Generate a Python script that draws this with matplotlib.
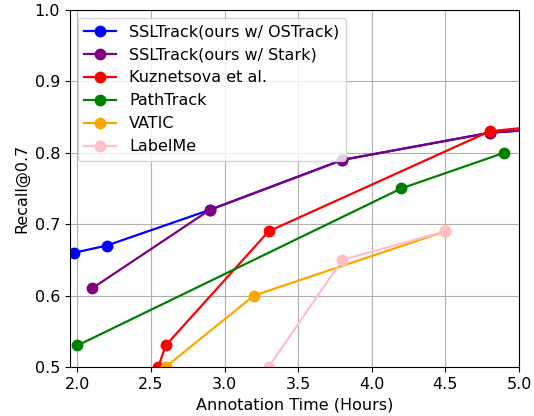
import matplotlib.pyplot as plt

# annotation time (hours) vs recall@0.7
ost_x = [1.98, 2.2, 2.9, 3.8, 4.8, 5.5]
ost_y = [0.66, 0.67, 0.72, 0.79, 0.828, 0.838]
stark_x = [2.1, 2.9, 3.8, 4.8, 5.5]
stark_y = [0.61, 0.72, 0.79, 0.828, 0.838]
kuz_x = [2.55, 2.6, 3.3, 4.8, 5.5]
kuz_y = [0.50, 0.53, 0.69, 0.83, 0.845]
path_x = [2.0, 4.2, 4.9]
path_y = [0.53, 0.75, 0.80]
vatic_x = [2.6, 3.2, 4.5]
vatic_y = [0.50, 0.60, 0.69]
labelme_x = [3.3, 3.8, 4.5]
labelme_y = [0.50, 0.65, 0.69]

plt.rcParams['font.size'] = 11.5
plt.rcParams['lines.markersize'] = 7.5
plt.rcParams['lines.linewidth'] = 1.6

fig = plt.figure(figsize=(5.34, 4.16), dpi=100)
ax = fig.add_axes([0.131, 0.118, 0.841, 0.858])

ax.plot(ost_x, ost_y, 'o-', color='blue', label='SSLTrack(ours w/ OSTrack)')
ax.plot(stark_x, stark_y, 'o-', color='purple', label='SSLTrack(ours w/ Stark)')
ax.plot(kuz_x, kuz_y, 'o-', color='red', label='Kuznetsova et al.')
ax.plot(path_x, path_y, 'o-', color='green', label='PathTrack')
ax.plot(vatic_x, vatic_y, 'o-', color='orange', label='VATIC')
ax.plot(labelme_x, labelme_y, 'o-', color='pink', label='LabelMe')

ax.set_xlim(1.95, 5.0)
ax.set_ylim(0.5, 1.0)
ax.set_xlabel('Annotation Time (Hours)')
ax.set_ylabel('Recall@0.7')
ax.grid(True)
ax.legend(loc='upper left')

plt.savefig('out.png', dpi=100)
